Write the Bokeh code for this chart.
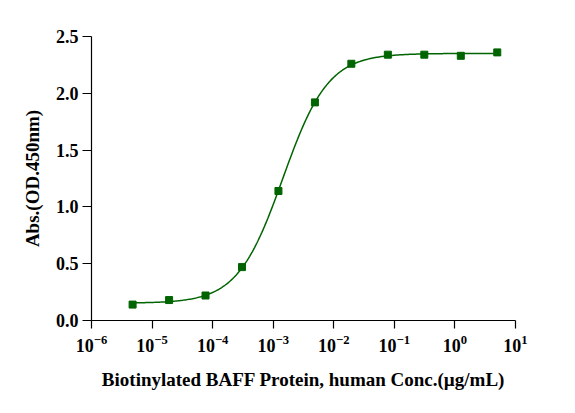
import numpy as np
from bokeh.plotting import figure
from bokeh.models import Range1d, FixedTicker, CustomJSTickFormatter
from bokeh.embed import file_html
from bokeh.resources import INLINE

# data (4-fold dilution series)
conc = [4.77e-6, 1.91e-5, 7.63e-5, 3.05e-4, 1.22e-3, 4.88e-3, 1.95e-2, 7.81e-2, 0.3125, 1.25, 5.0]
absorb = [0.14, 0.18, 0.22, 0.47, 1.14, 1.92, 2.26, 2.34, 2.34, 2.33, 2.36]
x_ticks = [1e-6, 1e-5, 1e-4, 1e-3, 1e-2, 1e-1, 1, 10]
y_ticks = [0, 0.5, 1.0, 1.5, 2.0, 2.5]
x_title = "Biotinylated BAFF Protein, human Conc.(\u00b5g/mL)"
y_title = "Abs.(OD.450nm)"

# 4-parameter logistic fit of the points (Levenberg-Marquardt in numpy)
lx = np.log10(np.array(conc))
yv = np.array(absorb)

def f4(p, t):
    b, tp, c, h = p
    return b + (tp - b) / (1.0 + 10.0 ** ((c - t) * h))

p = np.array([yv.min(), yv.max(), -3.0, 1.0])
lam = 1e-3
for _ in range(300):
    r = yv - f4(p, lx)
    J = np.zeros((len(lx), 4))
    for k in range(4):
        dp = np.zeros(4); dp[k] = 1e-6
        J[:, k] = (f4(p + dp, lx) - f4(p - dp, lx)) / 2e-6
    A = J.T @ J
    g = J.T @ r
    step = np.linalg.solve(A + lam * np.diag(np.diag(A)), g)
    pn = p + step
    if np.sum((yv - f4(pn, lx)) ** 2) < np.sum(r ** 2):
        p = pn; lam *= 0.5
    else:
        lam *= 4
tfit = np.linspace(lx.min(), lx.max(), 300)
xfit = 10 ** tfit
yfit = f4(p, tfit)

green = "#006400"
font = "Liberation Serif"

fig = figure(width=559, height=397, x_axis_type="log",
             x_range=Range1d(x_ticks[0], x_ticks[-1]), y_range=Range1d(y_ticks[0], y_ticks[-1]),
             output_backend="svg", toolbar_location=None,
             min_border_left=91, min_border_right=44,
             min_border_top=36, min_border_bottom=77)
fig.outline_line_color = None
fig.xgrid.visible = False
fig.ygrid.visible = False

fig.line(xfit, yfit, line_color=green, line_width=1.5)
fig.scatter(conc, absorb, marker="square", size=7, fill_color=green, line_color=green)

for ax in (fig.xaxis[0], fig.yaxis[0]):
    ax.axis_line_color = "black"
    ax.axis_line_width = 1.2
    ax.major_tick_line_color = "black"
    ax.major_tick_line_width = 1.2
    ax.major_tick_in = 0
    ax.minor_tick_line_color = None
    ax.major_label_text_font = font
    ax.major_label_text_font_style = "bold"
    ax.major_label_text_font_size = "18px"
    ax.major_label_text_color = "black"
    ax.axis_label_text_font = font
    ax.axis_label_text_font_style = "bold"
    ax.axis_label_text_font_size = "19px"
    ax.axis_label_text_color = "black"

fig.xaxis[0].major_tick_out = 8
fig.yaxis[0].major_tick_out = 9
fig.xaxis[0].ticker = FixedTicker(ticks=x_ticks)
fig.yaxis[0].ticker = FixedTicker(ticks=y_ticks)
fig.yaxis[0].formatter = CustomJSTickFormatter(code="return tick.toFixed(1);")
fig.xaxis[0].axis_label = x_title
fig.yaxis[0].axis_label = y_title
fig.xaxis[0].major_label_standoff = 6
fig.xaxis[0].axis_label_standoff = 14
fig.yaxis[0].major_label_standoff = 4
fig.yaxis[0].axis_label_standoff = 10

open("out.html", "w").write(file_html(fig, INLINE))
